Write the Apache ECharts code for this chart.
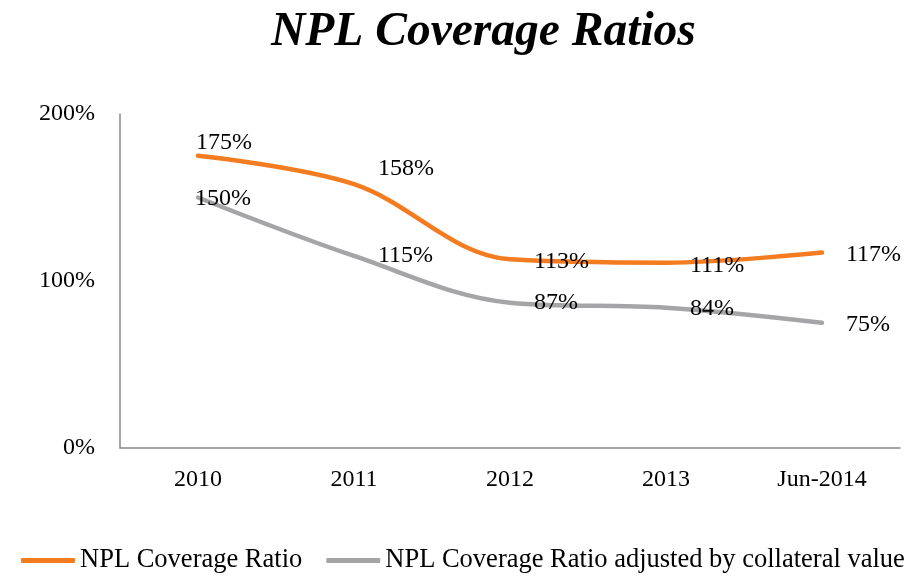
<!DOCTYPE html>
<html>
<head>
<meta charset="utf-8">
<script src="https://cdn.jsdelivr.net/npm/echarts@6/dist/echarts.min.js"></script>
<style>html,body{margin:0;padding:0;background:#fff}#c{width:924px;height:577px}</style>
</head>
<body>
<div id="c"></div>
<script>
var categories = ['2010', '2011', '2012', '2013', 'Jun-2014'];
var nplCoverage = [175, 158, 113, 111, 117];
var nplAdjusted = [150, 115, 87, 84, 75];
var yTicks = [0, 100, 200];

var FONT = "'Times New Roman','Liberation Serif',serif";
var orangeOffsets = [[-26, -13], [0, -15], [0, 2], [0, 3], [0, 2]];
var greyOffsets = [[-27, 1], [0, 0], [0, 0], [0, 1], [0, 2]];

function mk(vals, offs) {
  return vals.map(function (v, i) {
    return { value: v, label: { offset: offs[i] } };
  });
}

var chart = echarts.init(document.getElementById('c'));
chart.setOption({
  backgroundColor: '#fff',
  animation: false,
  title: {
    text: 'NPL Coverage Ratios',
    left: 266,
    top: 4,
    textStyle: { fontFamily: FONT, fontSize: 47.5, fontWeight: 'bold', fontStyle: 'italic', color: '#000' }
  },
  legend: {
    left: 16,
    top: 542,
    itemWidth: 54,
    itemHeight: 5,
    itemGap: 24,
    icon: 'roundRect',
    textStyle: { fontFamily: FONT, fontSize: 26.5, color: '#000' },
    data: ['NPL Coverage Ratio', 'NPL Coverage Ratio adjusted by collateral value']
  },
  grid: { left: 120, right: 24, top: 114, bottom: 129 },
  xAxis: {
    type: 'category',
    data: categories,
    boundaryGap: true,
    axisLine: { lineStyle: { color: '#898989', width: 1.5 } },
    axisTick: { show: false },
    axisLabel: { fontFamily: FONT, fontSize: 24, color: '#000', margin: 20 }
  },
  yAxis: {
    type: 'value',
    min: yTicks[0],
    max: yTicks[yTicks.length - 1],
    interval: 100,
    axisLine: { show: true, lineStyle: { color: '#898989', width: 1.5 } },
    axisTick: { show: false },
    splitLine: { show: false },
    axisLabel: { fontFamily: FONT, fontSize: 24, color: '#000', margin: 25, formatter: '{value}%' }
  },
  series: [
    {
      name: 'NPL Coverage Ratio',
      type: 'line',
      smooth: 0.35,
      symbol: 'circle',
      symbolSize: 0,
      showSymbol: true,
      data: mk(nplCoverage, orangeOffsets),
      lineStyle: { color: '#F47C20', width: 4.5, cap: 'round' },
      itemStyle: { color: '#F47C20' },
      label: { show: true, position: 'right', distance: 24, formatter: '{c}%', fontFamily: FONT, fontSize: 24, color: '#000' }
    },
    {
      name: 'NPL Coverage Ratio adjusted by collateral value',
      type: 'line',
      smooth: 0.35,
      symbol: 'circle',
      symbolSize: 0,
      showSymbol: true,
      data: mk(nplAdjusted, greyOffsets),
      lineStyle: { color: '#A5A5A8', width: 4.5, cap: 'round' },
      itemStyle: { color: '#A5A5A8' },
      label: { show: true, position: 'right', distance: 24, formatter: '{c}%', fontFamily: FONT, fontSize: 24, color: '#000' }
    }
  ]
});
</script>
</body>
</html>
